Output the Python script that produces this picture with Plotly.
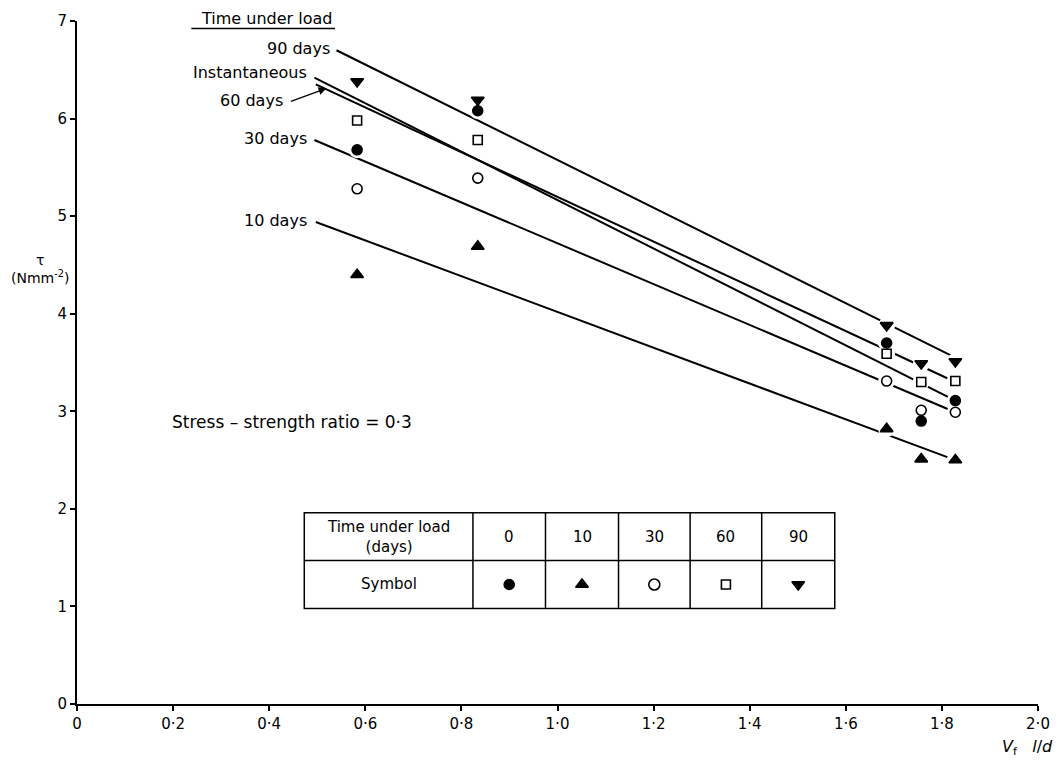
import plotly.graph_objects as go

# ---------------- data ----------------
vf_ld = [0.583, 0.834, 1.685, 1.757, 1.828]          # x positions of the measurements
tau_0 = [5.68, 6.08, 3.70, 2.90, 3.11]               # instantaneous  (filled circle)
tau_10 = [4.40, 4.69, 2.82, 2.51, 2.50]              # 10 days        (filled triangle up)
tau_30 = [5.28, 5.39, 3.31, 3.01, 2.99]              # 30 days        (open circle)
tau_60 = [5.98, 5.78, 3.59, 3.30, 3.31]              # 60 days        (open square)
tau_90 = [6.38, 6.19, 3.88, 3.49, 3.51]              # 90 days        (filled triangle down)

# fitted lines: [x_start, x_end], [tau_start, tau_end]
fit_0_x, fit_0_y = [0.494, 1.828], [6.42, 3.11]
fit_10_x, fit_10_y = [0.497, 1.828], [4.94, 2.50]
fit_30_x, fit_30_y = [0.494, 1.828], [5.78, 2.99]
fit_60_x, fit_60_y = [0.497, 1.828], [6.35, 3.30]
fit_90_x, fit_90_y = [0.540, 1.828], [6.70, 3.55]

days = ["0", "10", "30", "60", "90"]
line_labels = ["Instantaneous", "10 days", "30 days", "60 days", "90 days"]

x_tickvals = [0, 0.2, 0.4, 0.6, 0.8, 1.0, 1.2, 1.4, 1.6, 1.8, 2.0]
x_ticktext = ["0", "0·2", "0·4", "0·6", "0·8", "1·0", "1·2", "1·4", "1·6", "1·8", "2·0"]
y_tickvals = [0, 1, 2, 3, 4, 5, 6, 7]

# ---------------- styling ----------------
FONT = "DejaVu Sans"
symbols = ["circle", "triangle-up", "circle-open", "square-open", "triangle-down"]
sizes = [10, 11, 10, 9, 11]
series = [tau_0, tau_10, tau_30, tau_60, tau_90]
fits = [(fit_0_x, fit_0_y), (fit_10_x, fit_10_y), (fit_30_x, fit_30_y),
        (fit_60_x, fit_60_y), (fit_90_x, fit_90_y)]

fig = go.Figure()

for (fx, fy), name in zip(fits, line_labels):
    fig.add_trace(go.Scatter(x=fx, y=fy, mode="lines", name=name,
                             line=dict(color="black", width=2),
                             hoverinfo="skip", showlegend=False))

all_x = [x for _ in series for x in vf_ld]
all_y = [y for s in series for y in s]
fig.add_trace(go.Scatter(x=all_x, y=all_y, mode="markers",
                         marker=dict(color="white", size=17, symbol="circle", opacity=1),
                         hoverinfo="skip", showlegend=False))

for s, sym, sz, name in zip(series, symbols, sizes, line_labels):
    fig.add_trace(go.Scatter(x=vf_ld, y=s, mode="markers", name=name,
                             marker=dict(symbol=sym, size=sz, color="black", opacity=1,
                                         line=dict(color="black", width=1.6)),
                             showlegend=False))

# ---------------- table ----------------
tx = [0.473, 0.824, 0.975, 1.127, 1.276, 1.425, 1.577]
ty_top, ty_mid, ty_bot = 1.96, 1.47, 0.98
tline = dict(color="black", width=1.5)
fig.add_shape(type="rect", x0=tx[0], x1=tx[-1], y0=ty_bot, y1=ty_top,
              xref="x", yref="y", line=tline)
fig.add_shape(type="line", x0=tx[0], x1=tx[-1], y0=ty_mid, y1=ty_mid,
              xref="x", yref="y", line=tline)
for xv in tx[1:-1]:
    fig.add_shape(type="line", x0=xv, x1=xv, y0=ty_bot, y1=ty_top,
                  xref="x", yref="y", line=tline)

tfont = dict(family=FONT, size=15, color="black")
row1_y = (ty_top + ty_mid) / 2
row2_y = (ty_mid + ty_bot) / 2
fig.add_annotation(x=(tx[0] + tx[1]) / 2, y=row1_y, text="Time under load<br>(days)",
                   showarrow=False, xanchor="center", yanchor="middle", font=tfont)
fig.add_annotation(x=(tx[0] + tx[1]) / 2, y=row2_y, text="Symbol",
                   showarrow=False, xanchor="center", yanchor="middle", font=tfont)
col_centers = [(tx[i] + tx[i + 1]) / 2 for i in range(1, 6)]
for cx, d in zip(col_centers, days):
    fig.add_annotation(x=cx, y=row1_y, text=d, showarrow=False,
                       xanchor="center", yanchor="middle", font=tfont)
fig.add_trace(go.Scatter(x=col_centers, y=[row2_y] * 5, mode="markers",
                         marker=dict(symbol=symbols, size=[10, 11, 11, 9, 11], color="black",
                                     opacity=1, line=dict(color="black", width=1.6)),
                         hoverinfo="skip", showlegend=False))

# ---------------- line labels ----------------
lab_font = dict(family=FONT, size=16, color="black")
# header above the plotting area (paper y so it is not hidden)
fig.add_annotation(x=0.535, xref="x", y=1.004, yref="paper", text="Time under load",
                   showarrow=False, xanchor="right", yanchor="middle",
                   font=dict(family=FONT, size=16, color="black"))
fig.add_shape(type="line", xref="x", yref="paper", x0=0.238, x1=0.537,
              y0=0.989, y1=0.989, line=dict(color="black", width=1.5))
fig.add_annotation(x=0.531, y=6.72, text="90 days", showarrow=False,
                   xanchor="right", yanchor="middle", font=lab_font)
fig.add_annotation(x=0.483, y=6.47, text="Instantaneous", showarrow=False,
                   xanchor="right", yanchor="middle", font=lab_font)
fig.add_annotation(x=0.432, y=6.19, text="60 days", showarrow=False,
                   xanchor="right", yanchor="middle", font=lab_font)
fig.add_annotation(x=0.519, y=6.31, ax=0.442, ay=6.17, axref="x", ayref="y",
                   text="", showarrow=True, arrowhead=2, arrowsize=1.2,
                   arrowwidth=1.3, arrowcolor="black")
fig.add_annotation(x=0.483, y=5.80, text="30 days", showarrow=False,
                   xanchor="right", yanchor="middle", font=lab_font)
fig.add_annotation(x=0.483, y=4.96, text="10 days", showarrow=False,
                   xanchor="right", yanchor="middle", font=lab_font)
fig.add_annotation(x=0.193, y=2.89, text="Stress – strength ratio = 0·3",
                   showarrow=False, xanchor="left", yanchor="middle",
                   font=dict(family=FONT, size=17, color="black"))

# axis titles
fig.add_annotation(xref="paper", yref="y", x=-0.038, y=4.46,
                   text="τ<br>(Nmm<sup>-2</sup>)", showarrow=False,
                   xanchor="center", yanchor="middle",
                   font=dict(family=FONT, size=14, color="black"))
fig.add_annotation(xref="paper", yref="paper", x=0.989, y=-0.064,
                   text="<i>V</i><sub>f</sub>   <i>l</i>/<i>d</i>", showarrow=False,
                   xanchor="center", yanchor="middle",
                   font=dict(family=FONT, size=16, color="black"))

fig.update_layout(
    width=1062, height=766,
    margin=dict(l=77, r=21, t=18, b=62),
    paper_bgcolor="white", plot_bgcolor="white",
    font=dict(family=FONT, size=14, color="black"),
    showlegend=False,
    xaxis=dict(range=[0, 2.0], tickvals=x_tickvals, ticktext=x_ticktext,
               showline=True, linecolor="black", linewidth=2,
               ticks="outside", ticklen=5, tickwidth=1.5, tickcolor="black",
               showgrid=False, zeroline=False, tickfont=dict(size=15)),
    yaxis=dict(range=[0, 7], tickvals=y_tickvals,
               showline=True, linecolor="black", linewidth=2,
               ticks="outside", ticklen=5, tickwidth=1.5, tickcolor="black",
               showgrid=False, zeroline=False, tickfont=dict(size=15)),
)

fig.write_html("out.html")
